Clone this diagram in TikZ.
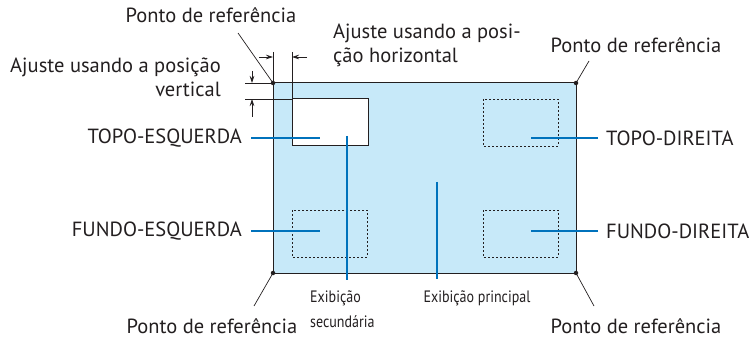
\documentclass[tikz,border=0pt]{standalone}
\usepackage{fontspec}
\setmainfont{PT Sans}
\newfontfamily\narrowfont[FakeStretch=0.85]{PT Sans}
\usetikzlibrary{arrows.meta}
\definecolor{screenblue}{RGB}{199,233,249}
\definecolor{leadblue}{RGB}{0,114,188}
\definecolor{inkgray}{RGB}{35,31,32}

\begin{document}
\begin{tikzpicture}[x=1pt, y=-1pt,
  every node/.style={font=\fontsize{20.5}{24}\selectfont, text=inkgray, inner sep=0pt},
  refdot/.style={circle, fill=inkgray, inner sep=0pt, minimum size=4.5pt},
  leader/.style={inkgray, line width=0.7pt},
  blueline/.style={leadblue, line width=2pt},
  subwin/.style={draw=inkgray, line width=0.9pt, dash pattern=on 2pt off 2pt},
  dimline/.style={inkgray, line width=0.7pt},
  dimarrow/.style={-{Stealth[length=7pt,width=4.5pt]}, inkgray, line width=0.7pt},
  small/.style={font=\narrowfont\fontsize{16.5}{19}\selectfont}]
  \useasboundingbox (0,0) rectangle (749,339);
  % Main display
  \draw[fill=screenblue, draw=inkgray, line width=1pt] (273,83) rectangle (576,273);
  % Secondary display and the other positions
  \draw[fill=white, draw=inkgray, line width=1pt] (292,99) rectangle (368,146);
  \foreach \x/\y in {292/210, 483/99, 483/210} {
    \draw[subwin] (\x,\y) rectangle ++(75,47);
  }
  % Dimension lines
  \draw[dimline] (273,52) -- (273,83);
  \draw[dimline] (292,52) -- (292,99);
  \draw[dimline] (245,83) -- (273,83);
  \draw[dimline] (245,99) -- (292,99);
  \draw[dimarrow] (259,57) -- (273,57);
  \draw[dimarrow] (307,57) -- (292,57);
  \draw[dimarrow] (252,71) -- (252,83);
  \draw[dimarrow] (252,117) -- (252,99);
  % Reference points
  \node[refdot] (tl) at (273,83) {};
  \node[refdot] (tr) at (576,83) {};
  \node[refdot] (bl) at (273,273) {};
  \node[refdot] (br) at (576,273) {};
  \node[anchor=base] (reftl) at (211,23) {Ponto de referência};
  \node[anchor=base] (reftr) at (636,53) {Ponto de referência};
  \node[anchor=base] (refbl) at (212,333) {Ponto de referência};
  \node[anchor=base] (refbr) at (636,333) {Ponto de referência};
  \coordinate (tlend) at (238,33);
  \coordinate (trend) at (589,61);
  \coordinate (blend) at (254,306);
  \coordinate (brend) at (594,306);
  \draw[leader] (tl.center) -- (tlend);
  \draw[leader] (tr.center) -- (trend);
  \draw[leader] (bl.center) -- (blend);
  \draw[leader] (br.center) -- (brend);
  % Adjustment texts
  \node[anchor=base west] (hadj) at (333,39) {Ajuste usando a posi-};
  \node[anchor=base west] (hadj2) at (333,63) {ção horizontal};
  \node[anchor=base east] (vadj) at (221,73) {Ajuste usando a posição};
  \node[anchor=base east] (vadj2) at (221,97) {vertical};
  % Position labels
  \node[anchor=east] (topl) at (242,138) {TOPO-ESQUERDA};
  \node[anchor=east] (botl) at (242,231) {FUNDO-ESQUERDA};
  \node[anchor=west] (topr) at (606,138) {TOPO-DIREITA};
  \node[anchor=west] (botr) at (606,231) {FUNDO-DIREITA};
  \coordinate (toplin) at (320,138);
  \coordinate (botlin) at (320,231);
  \coordinate (toprin) at (531,138);
  \coordinate (botrin) at (531,231);
  \draw[blueline] ([xshift=9pt]topl.east) -- (toplin);
  \draw[blueline] ([xshift=9pt]botl.east) -- (botlin);
  \draw[blueline] ([xshift=-8pt]topr.west) -- (toprin);
  \draw[blueline] ([xshift=-8pt]botr.west) -- (botrin);
  % Display labels
  \node[small, anchor=base west] (sub1) at (310,302) {Exibição};
  \node[small, anchor=base west] (sub2) at (310,327) {secundária};
  \node[small, anchor=base] (mainlab) at (477,302) {Exibição principal};
  \coordinate (subin) at (347,136);
  \coordinate (mainin) at (437,182);
  \draw[blueline] (subin) -- (347,280);
  \draw[blueline] (mainin) -- (437,279);
\end{tikzpicture}
\end{document}
